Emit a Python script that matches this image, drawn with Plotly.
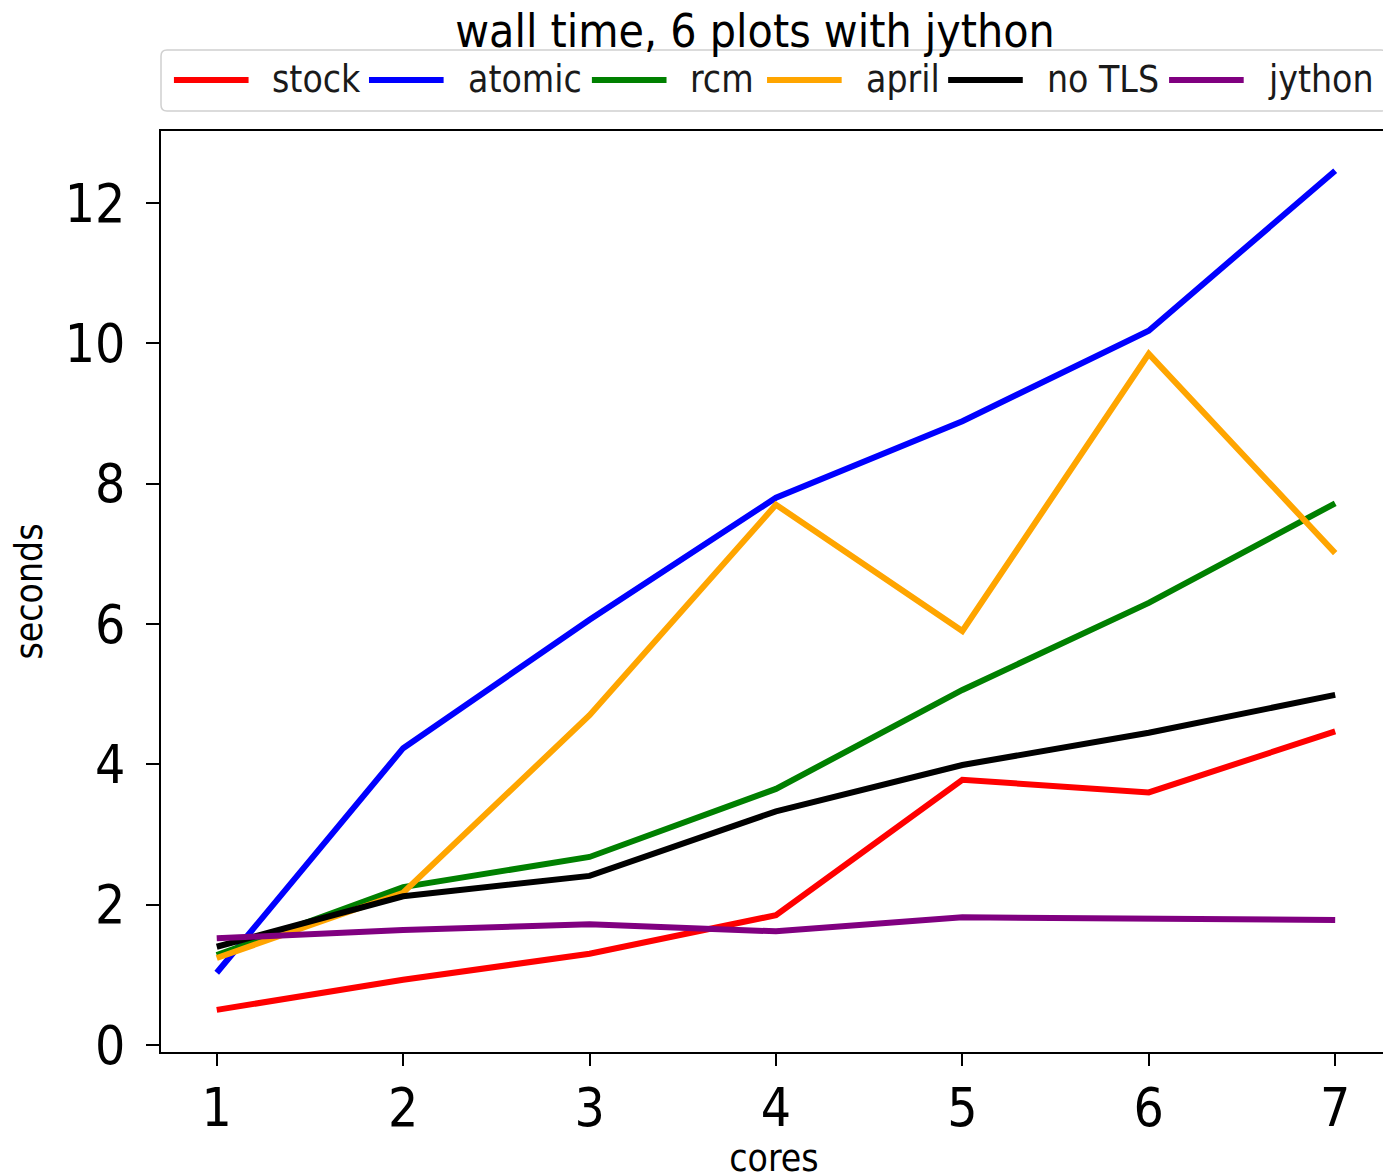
import plotly.graph_objects as go

cores = [1, 2, 3, 4, 5, 6, 7]
series_names = ["stock", "atomic", "rcm", "april", "no TLS", "jython"]
series_colors = ["red", "blue", "green", "orange", "black", "purple"]
stock = [0.50, 0.93, 1.30, 1.85, 3.78, 3.60, 4.47]
atomic = [1.03, 4.23, 6.06, 7.80, 8.89, 10.18, 12.46]
rcm = [1.28, 2.25, 2.68, 3.65, 5.06, 6.30, 7.72]
april = [1.24, 2.17, 4.70, 7.70, 5.90, 9.85, 7.01]
no_tls = [1.40, 2.12, 2.41, 3.33, 3.99, 4.45, 4.99]
jython = [1.52, 1.64, 1.72, 1.62, 1.82, 1.81, 1.78]
series_values = [stock, atomic, rcm, april, no_tls, jython]
y_ticks = [0, 2, 4, 6, 8, 10, 12]

# page offset of the plot div (browser default body margin)
OFF = 8
W, H = 1391, 1172
ML, MR, MT, MB = 149, 10, 123, 128
PW, PH = W - ML - MR, H - MT - MB

COND = "DejaVu Sans Condensed, DejaVu Sans, sans-serif"

fig = go.Figure()
for name, color, vals in zip(series_names, series_colors, series_values):
    fig.add_trace(go.Scatter(x=cores, y=vals, mode="lines", name=name,
                             line=dict(color=color, width=6), showlegend=False))


def px_x(s):
    return (s - OFF - ML) / PW


def px_y(s):
    return (H - MB - (s - OFF)) / PH


shapes = []
annotations = []
# legend frame (rounded rectangle) in screen pixels
lx0, lx1, ly0, ly1, r = px_x(157), px_x(1389), px_y(111), px_y(50), 6
rx, ry = r / PW, r / PH
path = (f"M {lx0+rx},{ly0} L {lx1-rx},{ly0} Q {lx1},{ly0} {lx1},{ly0+ry} "
        f"L {lx1},{ly1-ry} Q {lx1},{ly1} {lx1-rx},{ly1} L {lx0+rx},{ly1} "
        f"Q {lx0},{ly1} {lx0},{ly1-ry} L {lx0},{ly0+ry} Q {lx0},{ly0} {lx0+rx},{ly0} Z")
shapes.append(dict(type="path", xref="paper", yref="paper", path=path,
                   line=dict(color="#d0d0d0", width=1.5), fillcolor="white", layer="above"))
legend_starts = [170, 366, 590, 766, 948, 1170]
for start, name, color in zip(legend_starts, series_names, series_colors):
    shapes.append(dict(type="line", xref="paper", yref="paper",
                       x0=px_x(start), x1=px_x(start + 75), y0=px_y(80), y1=px_y(80),
                       line=dict(color=color, width=6), layer="above"))
    annotations.append(dict(text=name, xref="paper", yref="paper",
                            x=px_x(start + 97), y=px_y(80), xanchor="left", yanchor="middle",
                            showarrow=False, font=dict(family=COND, size=37, color="#1a1a1a")))

fig.update_layout(
    width=W, height=H,
    margin=dict(l=ML, r=MR, t=MT, b=MB),
    paper_bgcolor="white", plot_bgcolor="white",
    title=dict(text="wall time, 6 plots with jython", x=(755 - OFF) / W, xanchor="center",
               y=1 - (31 - OFF) / H, yanchor="middle", yref="container",
               font=dict(family=COND, size=46, color="black")),
    shapes=shapes, annotations=annotations,
    xaxis=dict(range=[0.701, 7.278], tickvals=cores, ticks="outside", ticklen=12, tickwidth=2,
               tickcolor="black", showline=True, linecolor="black", linewidth=2, mirror=True,
               showgrid=False, zeroline=False, ticklabelstandoff=-4,
               tickfont=dict(family=COND, size=53, color="black"),
               title=dict(text="cores", standoff=7, font=dict(family=COND, size=37, color="black"))),
    yaxis=dict(range=[-0.0998, 13.026], tickvals=y_ticks, ticks="outside", ticklen=13, tickwidth=2,
               tickcolor="black", showline=True, linecolor="black", linewidth=2, mirror=True,
               showgrid=False, zeroline=False, ticklabelstandoff=10,
               tickfont=dict(family=COND, size=53, color="black"),
               title=dict(text="seconds", standoff=21, font=dict(family=COND, size=37, color="black"))),
)

fig.write_html("out.html")
